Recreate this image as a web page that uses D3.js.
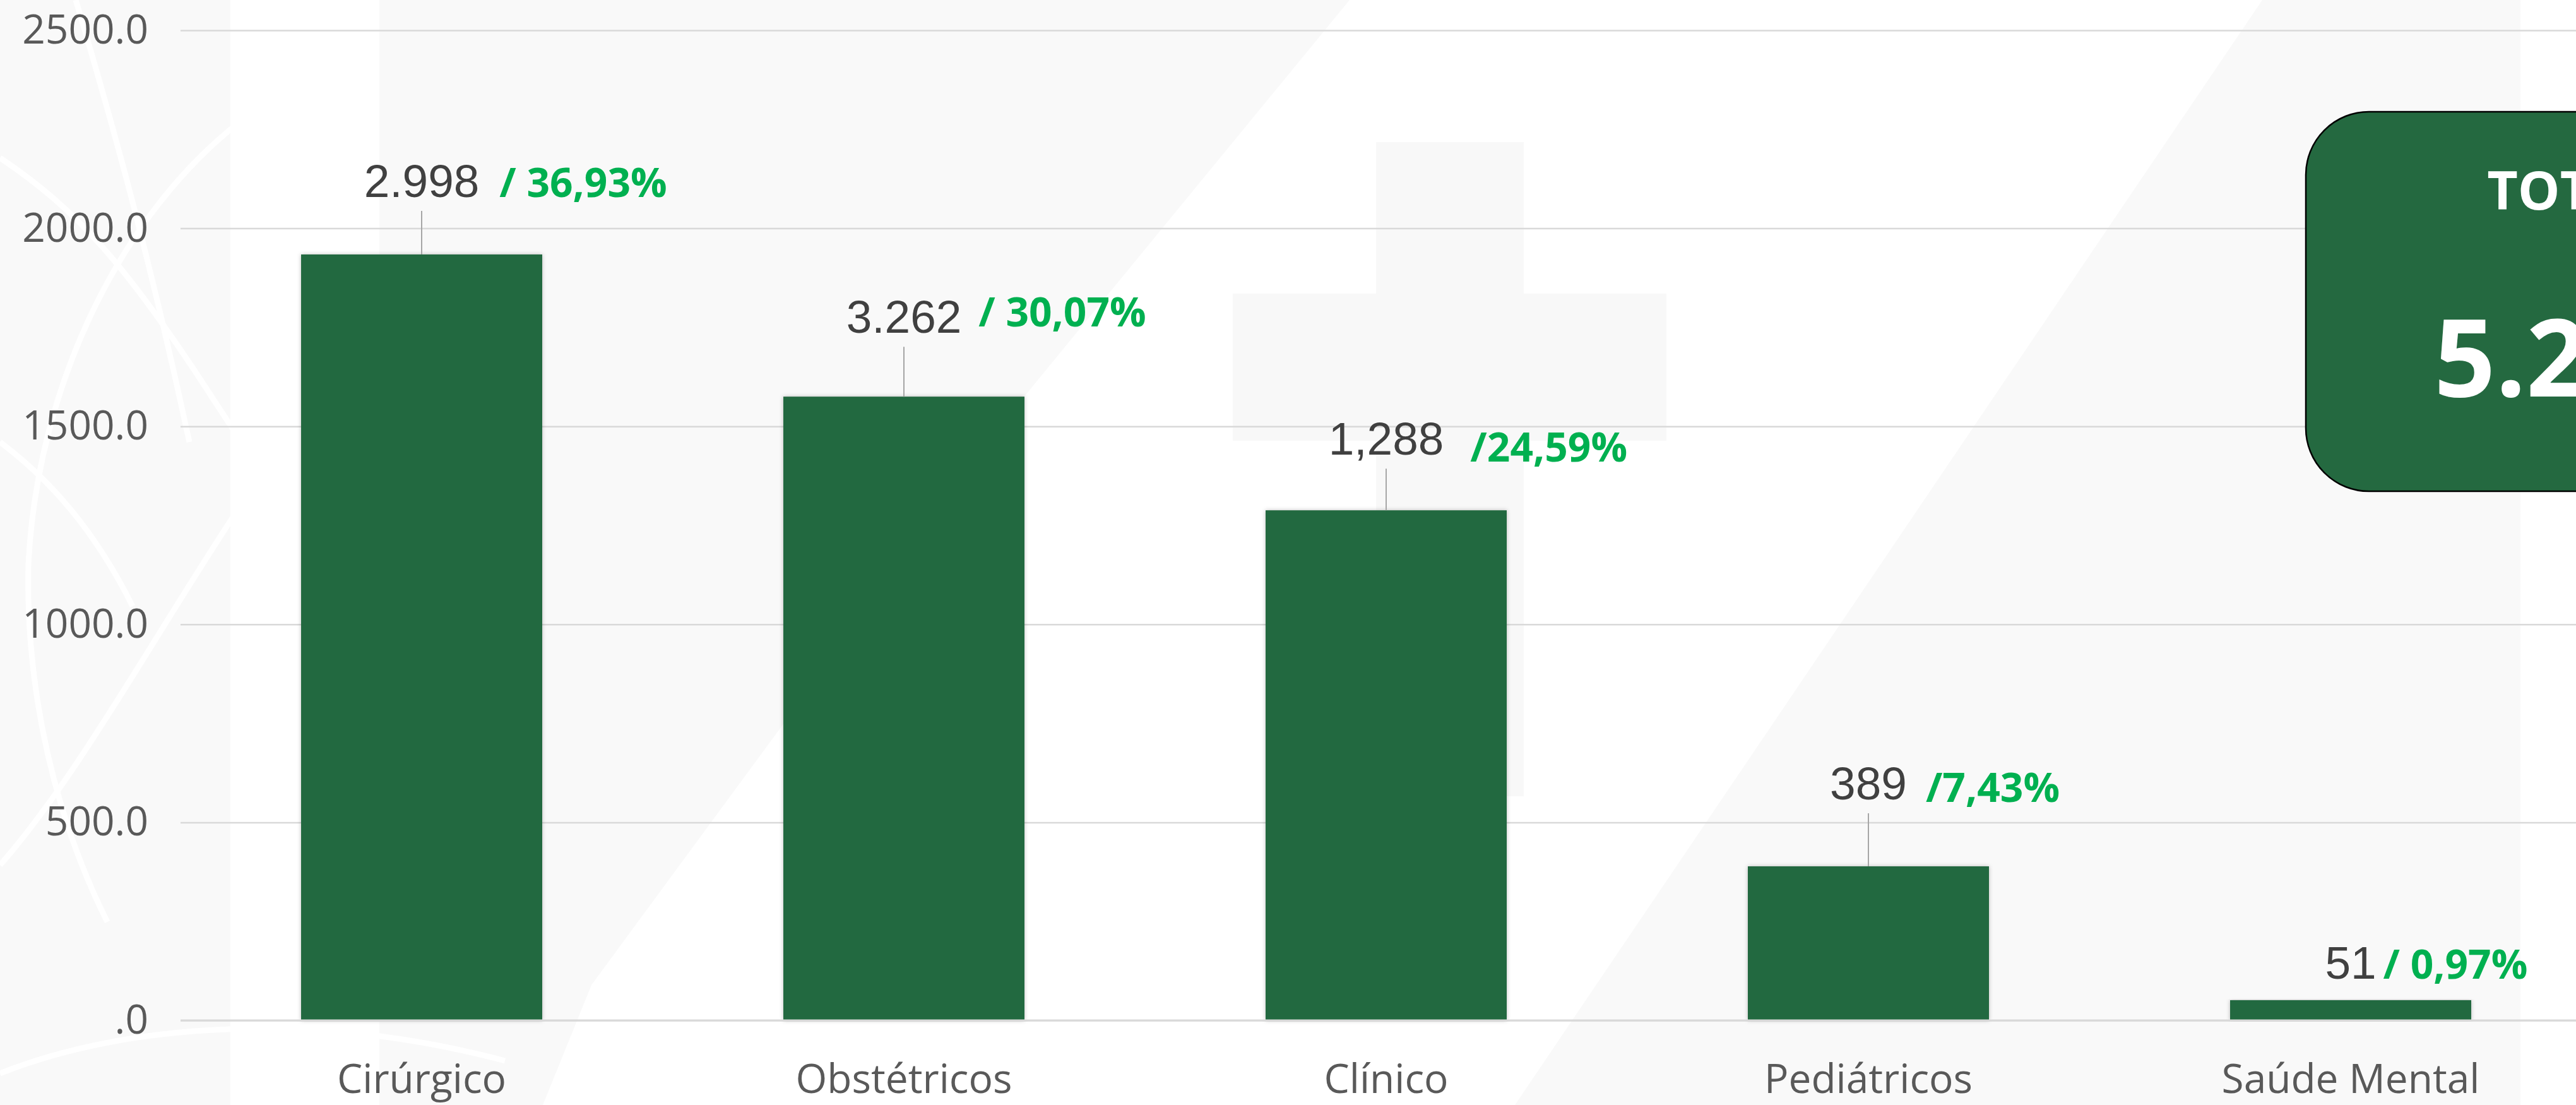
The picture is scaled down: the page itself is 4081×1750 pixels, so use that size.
<!DOCTYPE html>
<html>
<head>
<meta charset="utf-8">
<script src="https://cdn.jsdelivr.net/npm/d3@7"></script>
<style>
  body { margin: 0; overflow: hidden; background: #f9f9f9; }
  svg { display: block; }
</style>
</head>
<body>
<svg width="4081" height="1750"></svg>
<script>
// chart data
var categories = ["Cirúrgico", "Obstétricos", "Clínico", "Pediátricos", "Saúde Mental"];
var values = [1934, 1575, 1288, 389, 51];
var valueLabels = ["2.998", "3.262", "1,288", "389", "51"];
var shareLabels = ["/ 36,93%", "/ 30,07%", "/24,59%", "/7,43%", "/ 0,97%"];
var yTicks = [0, 500, 1000, 1500, 2000, 2500];
var yTickLabels = [".0", "500.0", "1000.0", "1500.0", "2000.0", "2500.0"];
var totalTitle = "TOTAL";

// label nudges (the labels were moved by hand in the original)
var labelRaise = [91, 101, 88, 106, 34];
var labelGap = [32, 27, 42, 30, 11];
var shareDy = [0, -10, 11, 4, 0];

var barColor = "#246940";
var W = 4081, H = 1750;

var svg = d3.select("svg");

// background decoration
var bg = svg.append("g");
bg.append("rect").attr("width", W).attr("height", H).attr("fill", "#f9f9f9");
bg.append("rect").attr("x", 365).attr("y", 0).attr("width", 236).attr("height", H).attr("fill", "#ffffff");
// diagonal white band
bg.append("path")
    .attr("d", "M2138,0 L3584,0 L2400,1750 L860,1750 L937,1560 L1621,630 L1790,424 Z")
    .attr("fill", "#ffffff");
bg.append("rect").attr("x", 3993).attr("y", 0).attr("width", W - 3993).attr("height", H).attr("fill", "#ffffff");
// faint cross
bg.append("rect").attr("x", 2180).attr("y", 225).attr("width", 234).attr("height", 1036).attr("fill", "#f8f8f8");
bg.append("rect").attr("x", 1953).attr("y", 465).attr("width", 687).attr("height", 233).attr("fill", "#f8f8f8");
// white swirls on the left
var swirls = [
    "M0,250 C120,330 200,420 330,620 C420,760 520,900 700,1000",
    "M384,190 C200,330 60,600 45,893 C40,1100 90,1300 170,1460",
    "M0,1370 C150,1200 300,900 473,670",
    "M0,1700 C200,1620 500,1600 800,1680",
    "M120,0 C180,200 240,420 300,700",
    "M0,700 C80,760 150,840 210,960"
];
bg.selectAll("path.swirl").data(swirls).enter().append("path")
    .attr("class", "swirl")
    .attr("d", function(d) { return d; })
    .attr("fill", "none")
    .attr("stroke", "#ffffff")
    .attr("stroke-width", 9);

// shadow for bars
var defs = svg.append("defs");
defs.append("filter").attr("id", "shadow")
    .attr("x", "-5%").attr("y", "-5%").attr("width", "110%").attr("height", "110%")
    .append("feDropShadow")
    .attr("dx", 0).attr("dy", 0).attr("stdDeviation", 3)
    .attr("flood-color", "#000").attr("flood-opacity", 0.25);

var x = d3.scaleBand().domain(categories).range([286, 4106]).paddingInner(0.5).paddingOuter(0.25);
var y = d3.scaleLinear().domain([0, 2500]).range([1616, 48]);

// gridlines
svg.append("g")
    .attr("transform", "translate(286,0)")
    .call(d3.axisLeft(y).tickValues(yTicks).tickSize(-(W - 286)).tickFormat(""))
    .call(function(g) { g.select(".domain").remove(); })
    .selectAll("line")
    .attr("stroke", "#d9d9d9")
    .attr("stroke-width", 2.5);

// y axis labels
svg.append("g")
    .attr("transform", "translate(286,0)")
    .call(d3.axisLeft(y).tickValues(yTicks).tickSize(0).tickPadding(51)
        .tickFormat(function(d, i) { return yTickLabels[i]; }))
    .call(function(g) { g.select(".domain").remove(); })
    .selectAll("text")
    .attr("font-family", "'Open Sans', sans-serif")
    .attr("font-size", 64)
    .attr("fill", "#595959");

// bars
svg.append("g")
    .selectAll("rect")
    .data(values)
    .enter()
    .append("rect")
    .attr("x", function(d, i) { return x(categories[i]); })
    .attr("y", function(d) { return y(d); })
    .attr("width", x.bandwidth())
    .attr("height", function(d) { return y(0) - y(d); })
    .attr("fill", barColor)
    .attr("filter", "url(#shadow)");

// x axis line + labels
var xAxis = svg.append("g")
    .attr("transform", "translate(0," + y(0) + ")")
    .call(d3.axisBottom(x).tickSize(0));
xAxis.select(".domain")
    .attr("d", "M286,0H" + W)
    .attr("stroke", "#d9d9d9")
    .attr("stroke-width", 3);
xAxis.selectAll("text")
    .attr("dy", null)
    .attr("y", 115)
    .attr("font-family", "'Open Sans', sans-serif")
    .attr("font-size", 64)
    .attr("fill", "#595959");

// data labels
var labels = svg.append("g");
values.forEach(function(v, i) {
    var cx = x(categories[i]) + x.bandwidth() / 2;
    var base = y(v) - labelRaise[i];

    if (labelRaise[i] > 60) {
        labels.append("line")
            .attr("x1", cx).attr("x2", cx)
            .attr("y1", base + 22).attr("y2", y(v))
            .attr("stroke", "#a6a6a6")
            .attr("stroke-width", 2);
    }

    var num = labels.append("text")
        .attr("x", cx)
        .attr("y", base)
        .attr("text-anchor", "middle")
        .attr("font-family", "'Liberation Sans', Arial, sans-serif")
        .attr("font-size", 73)
        .attr("fill", "#404040")
        .text(valueLabels[i]);
    var w = num.node().getComputedTextLength();

    labels.append("text")
        .attr("x", cx + w / 2 + labelGap[i])
        .attr("y", base + shareDy[i])
        .attr("font-family", "'Open Sans', sans-serif")
        .attr("font-weight", "bold")
        .attr("font-size", 64)
        .attr("fill", "#00b050")
        .text(shareLabels[i]);
});

// total box
var total = d3.sum(values);
var box = svg.append("g");
box.append("rect")
    .attr("x", 3653).attr("y", 177)
    .attr("width", 844).attr("height", 601)
    .attr("rx", 100).attr("ry", 100)
    .attr("fill", barColor)
    .attr("stroke", "#000")
    .attr("stroke-width", 2.5);
box.append("text")
    .attr("x", 4075).attr("y", 332)
    .attr("text-anchor", "middle")
    .attr("font-family", "'Open Sans', sans-serif")
    .attr("font-weight", "bold")
    .attr("font-size", 84)
    .attr("fill", "#ffffff")
    .text(totalTitle);
box.append("text")
    .attr("x", 4075).attr("y", 628)
    .attr("text-anchor", "middle")
    .attr("font-family", "'Open Sans', sans-serif")
    .attr("font-weight", "bold")
    .attr("font-size", 170)
    .attr("fill", "#ffffff")
    .text(d3.format(",")(total).replace(/,/g, "."));
</script>
</body>
</html>
